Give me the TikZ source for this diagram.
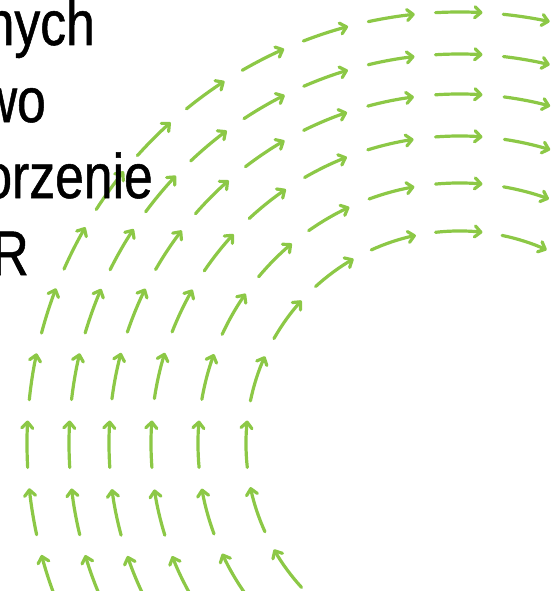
\documentclass[tikz,border=0pt]{standalone}
\usepackage{fontspec}
\setmainfont{Liberation Sans}[FakeStretch=0.82,FakeBold=0.8]
\usetikzlibrary{arrows.meta,calc}
\definecolor{vecgreen}{RGB}{140,200,70}
\begin{document}
\begin{tikzpicture}[x=1pt,y=1pt,
  vec/.style={draw=vecgreen, line width=3.2pt, line cap=round,
    -{Straight Barb[length=6pt,width=11pt,round]}},
  lbl/.style={anchor=base east, inner sep=0pt, text=black,
    font=\fontsize{63}{76}\selectfont}]
\useasboundingbox (0,0) rectangle (555,-591);
\begin{scope}
  \clip (0,0) rectangle (555,-591);
  \coordinate (C) at (459,-444);
  \foreach \r/\n in {432/10,390/9,350/8,308/7,261/6,213/5}{
    \pgfmathsetmacro{\st}{90/\n}
    \pgfmathsetmacro{\d}{23.5/\r*180/pi}
    \pgfmathtruncatemacro{\kmax}{\n+4}
    \foreach \k in {-2,...,\kmax}{
      \pgfmathsetmacro{\a}{90+\k*\st}
      \pgfmathsetmacro{\sa}{\a+\d}
      \pgfmathsetmacro{\ea}{\a-\d}
      \draw[vec] ($(C)+(\sa:\r)$) arc[start angle=\sa, end angle=\ea, radius=\r];
    }
  }
\end{scope}
\node[lbl] (t1) at (95,-45) {nych};
\node[lbl] (t2) at (46,-122) {wo};
\node[lbl] (t3) at (153,-198) {orzenie};
\node[lbl] (t4) at (29,-275) {R};
\end{tikzpicture}
\end{document}
